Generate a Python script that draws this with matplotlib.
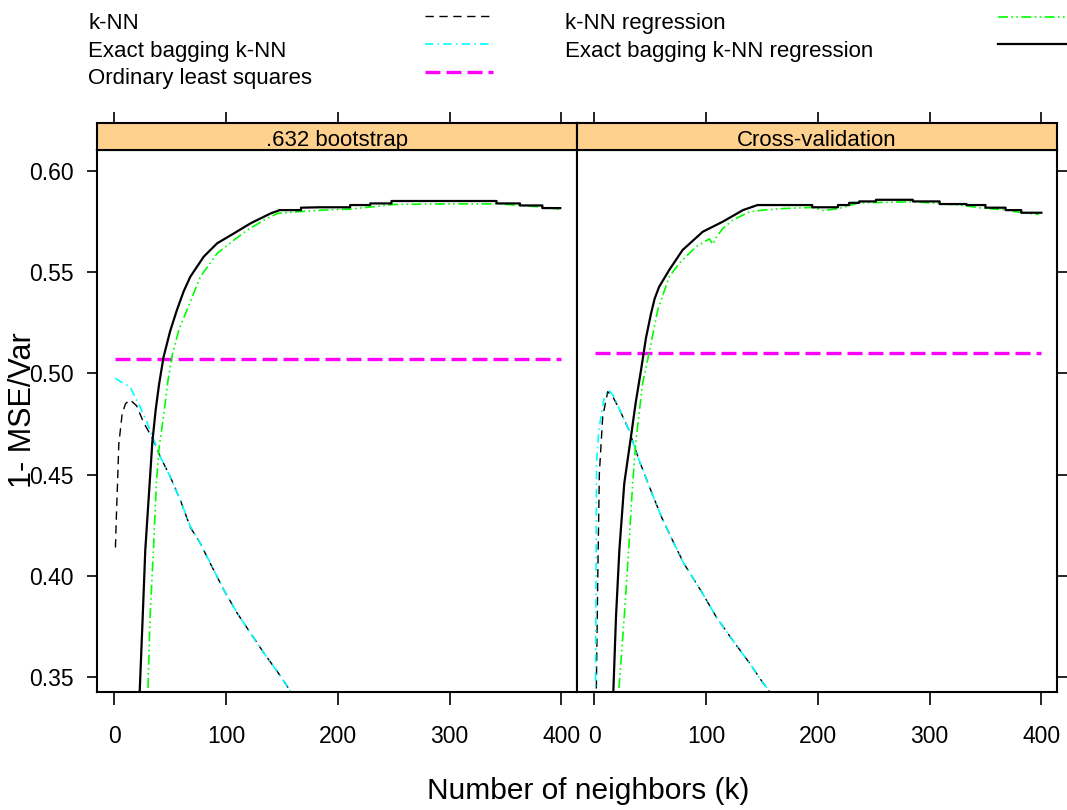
import numpy as np
import matplotlib
matplotlib.use("Agg")
import matplotlib.pyplot as plt
from matplotlib.lines import Line2D

plt.rcParams['font.family'] = ['Liberation Sans', 'DejaVu Sans']

# ---- data ----
panels = [".632 bootstrap", "Cross-validation"]
k_ticks = [0, 100, 200, 300, 400]
y_ticks = [0.35, 0.40, 0.45, 0.50, 0.55, 0.60]

# ordinary least squares (constant)
ols_k = [1, 400]
ols_boot = [0.507, 0.507]
ols_cv = [0.5103, 0.5103]

# k-NN
knn_boot_k = [1, 2, 3, 4, 7, 10, 14, 20, 26, 34, 41, 50, 59, 68, 77, 86, 98, 110, 122, 134, 146, 158, 162]
knn_boot = [0.414, 0.432, 0.448, 0.465, 0.480, 0.485, 0.487, 0.484, 0.476, 0.468, 0.459, 0.449, 0.4375,
            0.424, 0.416, 0.406, 0.393, 0.3815, 0.3716, 0.3617, 0.3526, 0.3427, 0.339]
knn_cv_k = [1, 3, 4.5, 7.5, 12, 17, 22, 31, 40, 50, 60, 70, 80, 95, 109, 124, 139, 150, 157, 161]
knn_cv = [0.31, 0.396, 0.4506, 0.4786, 0.491, 0.488, 0.4828, 0.472, 0.4572, 0.443, 0.4292, 0.4175,
          0.4062, 0.393, 0.3798, 0.368, 0.3568, 0.3478, 0.3427, 0.339]

# exact bagging k-NN
bag_boot_k = [1, 8, 14, 23, 29, 34, 41, 50, 59, 68, 77, 86, 98, 110, 122, 134, 146, 158, 162]
bag_boot = [0.4976, 0.4951, 0.4934, 0.4836, 0.4761, 0.469, 0.459, 0.449, 0.4375, 0.4245, 0.416,
            0.4062, 0.393, 0.3815, 0.3716, 0.3617, 0.3526, 0.3427, 0.339]
bag_cv_k = [1, 2, 4, 6, 9, 13, 17, 22, 31, 40, 50, 60, 70, 80, 95, 109, 124, 139, 150, 157, 161]
bag_cv = [0.33, 0.455, 0.472, 0.4786, 0.4887, 0.4918, 0.489, 0.4828, 0.472, 0.4572, 0.443, 0.4292,
          0.4175, 0.4062, 0.393, 0.3798, 0.368, 0.3568, 0.3478, 0.3427, 0.339]

# k-NN regression
reg_boot_k = [28, 30, 32, 35, 37.6, 40, 44, 48, 52, 58, 65, 77, 92, 107, 119, 134, 146, 164, 187, 211,
              232, 250, 300, 343, 363, 383, 398]
reg_boot = [0.31, 0.3426, 0.38, 0.4127, 0.4457, 0.463, 0.4786, 0.4965, 0.5095, 0.522, 0.5313, 0.5478,
            0.5593, 0.5659, 0.5708, 0.5758, 0.5791, 0.5799, 0.5807, 0.5812, 0.5824, 0.5835, 0.5838,
            0.5838, 0.583, 0.5822, 0.5812]
reg_cv_k = [20, 21.8, 26.8, 30.7, 34.3, 37.3, 43.2, 49, 56.7, 67, 76, 91, 100, 103, 106, 109, 115, 124,
            139, 151, 170, 195, 205, 219, 237, 285, 309, 333, 345, 368, 382, 398]
reg_cv = [0.31, 0.3427, 0.3798, 0.4127, 0.4457, 0.4671, 0.4951, 0.510, 0.5313, 0.5478, 0.5544, 0.5626,
          0.5655, 0.5665, 0.5638, 0.5672, 0.5717, 0.5758, 0.5799, 0.5807, 0.5815, 0.582, 0.5805, 0.5815,
          0.5843, 0.5848, 0.584, 0.5828, 0.5818, 0.5808, 0.5795, 0.5786]

# exact bagging k-NN regression
ebr_boot_k = [21, 22.7, 25.4, 27.7, 31.6, 34, 37, 40, 44, 50, 56, 62, 68, 80, 92, 107, 122, 140, 148,
              167, 167, 184, 211, 211, 229, 229, 248, 248, 342, 342, 363, 363, 383, 383, 399]
ebr_boot = [0.31, 0.3427, 0.3798, 0.4127, 0.4457, 0.466, 0.482, 0.4945, 0.508, 0.521, 0.5313, 0.5405,
            0.5478, 0.5577, 0.5643, 0.5692, 0.5742, 0.5791, 0.5807, 0.5807, 0.5819, 0.5821, 0.5821,
            0.5832, 0.5832, 0.584, 0.584, 0.5852, 0.5852, 0.584, 0.584, 0.583, 0.583, 0.5817, 0.5817]
ebr_cv_k = [15, 17, 19.4, 22.4, 26.8, 32.8, 37, 41.8, 46.2, 50.7, 54, 58, 67, 79, 97, 115, 133, 146, 195,
            195, 218, 218, 228, 228, 237, 237, 252, 252, 285, 285, 309, 309, 333, 333, 350, 350, 368,
            368, 382, 382, 400]
ebr_cv = [0.31, 0.3427, 0.3798, 0.4127, 0.4457, 0.4688, 0.4855, 0.5017, 0.5175, 0.5295, 0.537, 0.5428,
          0.5511, 0.561, 0.570, 0.575, 0.5807, 0.5832, 0.5832, 0.5821, 0.5821, 0.5832, 0.5832, 0.5843,
          0.5843, 0.585, 0.585, 0.5858, 0.5858, 0.585, 0.585, 0.5837, 0.5837, 0.5832, 0.5832, 0.5819,
          0.5819, 0.5807, 0.5807, 0.5794, 0.5794]

labels = ["k-NN", "Exact bagging k-NN", "Ordinary least squares",
          "k-NN regression", "Exact bagging k-NN regression"]

styles = {
    "k-NN": dict(color="black", lw=1.0, dashes=(6, 4)),
    "Exact bagging k-NN": dict(color="#00FFFF", lw=1.2, dashes=(5, 2.5, 1, 2.5)),
    "Ordinary least squares": dict(color="#FF00FF", lw=2.4, dashes=(4.5, 1.8)),
    "k-NN regression": dict(color="#00FF00", lw=1.2, dashes=(6, 2, 1, 2, 1, 2)),
    "Exact bagging k-NN regression": dict(color="black", lw=1.6),
}

series = [
    [("Ordinary least squares", ols_k, ols_boot), ("k-NN", knn_boot_k, knn_boot),
     ("Exact bagging k-NN", bag_boot_k, bag_boot), ("k-NN regression", reg_boot_k, reg_boot),
     ("Exact bagging k-NN regression", ebr_boot_k, ebr_boot)],
    [("Ordinary least squares", ols_k, ols_cv), ("k-NN", knn_cv_k, knn_cv),
     ("Exact bagging k-NN", bag_cv_k, bag_cv), ("k-NN regression", reg_cv_k, reg_cv),
     ("Exact bagging k-NN regression", ebr_cv_k, ebr_cv)],
]

W, H = 1067, 810


def fx(px):
    return px / W


def fy(py):
    return 1 - py / H


fig = plt.figure(figsize=(W / 100, H / 100), dpi=100)
xlim = (-15.5, 414)
ylim = (0.3426, 0.6104)

for i, left in enumerate([97, 577]):
    ax = fig.add_axes([fx(left), fy(692), 480 / W, 542 / H])
    for name, kk, vv in series[i]:
        ax.plot(kk, vv, **styles[name])
    ax.set_xlim(xlim)
    ax.set_ylim(ylim)
    ax.set_xticks(k_ticks)
    ax.set_yticks(y_ticks)
    ax.set_yticklabels(["%.2f" % v for v in y_ticks])
    for s in ax.spines.values():
        s.set_linewidth(1.5)
    ax.tick_params(axis="x", direction="out", length=9, width=1.2, labelsize=16.5, pad=15, top=False)
    if i == 0:
        ax.tick_params(axis="y", direction="out", length=7, width=1.2, labelsize=16.5, pad=10,
                       left=True, right=False)
    else:
        ax.tick_params(axis="y", direction="out", length=7, width=1.2, left=False, right=True,
                       labelleft=False)

    strip = fig.add_axes([fx(left), fy(150), 480 / W, 27 / H])
    strip.set_facecolor("#FFD18F")
    strip.set_xlim(xlim)
    strip.set_yticks([])
    strip.set_xticks(k_ticks)
    strip.tick_params(axis="x", direction="out", length=8, width=1.2, bottom=False, top=True,
                      labelbottom=False)
    for s in strip.spines.values():
        s.set_linewidth(1.5)
    strip.text(0.5, 0.36, panels[i], transform=strip.transAxes, ha="center", va="center", fontsize=16)

fig.text(fx(588), fy(791), "Number of neighbors (k)", ha="center", va="center", fontsize=21.5)
fig.text(fx(23), fy(410), "1- MSE/Var", ha="center", va="center", rotation=90, fontsize=22)

# legend, drawn as in the lattice key
key_pos = [(88, 29, 425, 493, 16), (88, 57, 425, 493, 44), (88, 84, 425, 493, 72),
           (565, 29, 998, 1070, 17), (565, 57, 998, 1070, 44)]
for lab, (tx, ty, lx0, lx1, ly) in zip(labels, key_pos):
    fig.text(fx(tx), fy(ty), lab, ha="left", va="baseline", fontsize=16)
    fig.add_artist(Line2D([fx(lx0), fx(lx1)], [fy(ly), fy(ly)], transform=fig.transFigure,
                          **styles[lab]))

fig.savefig("out.png", dpi=100)
